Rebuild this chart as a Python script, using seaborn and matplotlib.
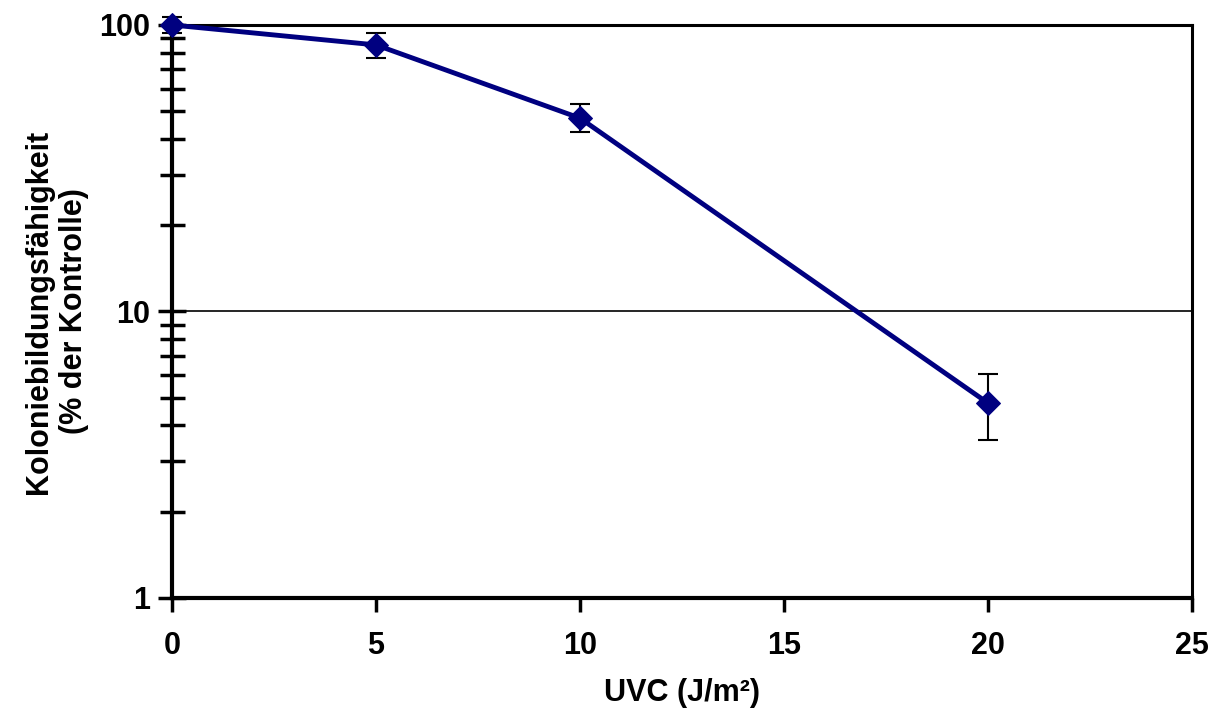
import matplotlib
matplotlib.use("Agg")
import matplotlib.pyplot as plt
import seaborn as sns
import numpy as np
import pandas as pd
from matplotlib.ticker import LogLocator, NullFormatter, FixedLocator

dose = [0, 5, 10, 20]
survival = [100, 85.2, 47.3, 4.79]
err_low = [6.2, 8.5, 5.0, 1.23]
err_high = [6.6, 8.6, 5.7, 1.26]
xticks = [0, 5, 10, 15, 20, 25]
yticks = [1, 10, 100]
ytick_labels = ["1", "10", "100"]

sns.set_theme(style="white")
plt.rcParams['font.family'] = ['Liberation Sans', 'DejaVu Sans']
plt.rcParams['font.weight'] = 'bold'
plt.rcParams['text.color'] = 'black'
plt.rcParams['axes.labelcolor'] = 'black'
plt.rcParams['xtick.color'] = 'black'
plt.rcParams['ytick.color'] = 'black'

fig = plt.figure(figsize=(12.2, 7.08), dpi=100)
ax = fig.add_axes([0.141, 0.1554, 0.836, 0.8093])

df = pd.DataFrame({"dose": dose, "survival": survival})
eb = ax.errorbar(dose, survival, yerr=[err_low, err_high], fmt='none', ecolor='black',
                 elinewidth=1.5, capsize=7, capthick=1.5, zorder=4)
for art in eb.lines[1] + eb.lines[2]:
    art.set_clip_on(False)
sns.lineplot(data=df, x="dose", y="survival", ax=ax, color="#000080", linewidth=3.5,
             marker="D", markersize=12, markeredgecolor="#000080", zorder=5, clip_on=False)

ax.set_yscale("log")
ax.set_ylim(1, 100)
ax.set_xlim(0, 25)
ax.set_xticks(xticks)
ax.set_xticklabels([str(t) for t in xticks])
ax.yaxis.set_major_locator(FixedLocator(yticks))
ax.set_yticklabels(ytick_labels)
ax.yaxis.set_minor_locator(LogLocator(base=10, subs=np.arange(2, 10)))
ax.yaxis.set_minor_formatter(NullFormatter())

ax.axhline(10, color="black", linewidth=1.2, zorder=1)

for s in ax.spines.values():
    s.set_color("black")
    s.set_linewidth(2.2)
    s.set_visible(True)
ax.spines['left'].set_linewidth(3)
ax.spines['bottom'].set_linewidth(3)

ax.tick_params(axis='y', which='major', direction='inout', length=20, width=2.5,
               labelsize=22, pad=6, left=True, color='black', labelcolor='black')
ax.tick_params(axis='y', which='minor', direction='inout', length=18, width=2.5,
               left=True, color='black')
ax.tick_params(axis='x', which='major', direction='out', length=10, width=2.5,
               labelsize=22, pad=14, bottom=True, color='black', labelcolor='black')
for lbl in ax.get_xticklabels() + ax.get_yticklabels():
    lbl.set_fontweight('bold')

ax.set_xlabel("UVC (J/m²)", fontsize=22, fontweight='bold', labelpad=12)
ax.set_ylabel("Koloniebildungsfähigkeit\n(% der Kontrolle)", fontsize=22,
              fontweight='bold', linespacing=1.25)
ax.yaxis.set_label_coords(-0.081, 0.5)

fig.savefig("out.png", dpi=100, facecolor="white")
